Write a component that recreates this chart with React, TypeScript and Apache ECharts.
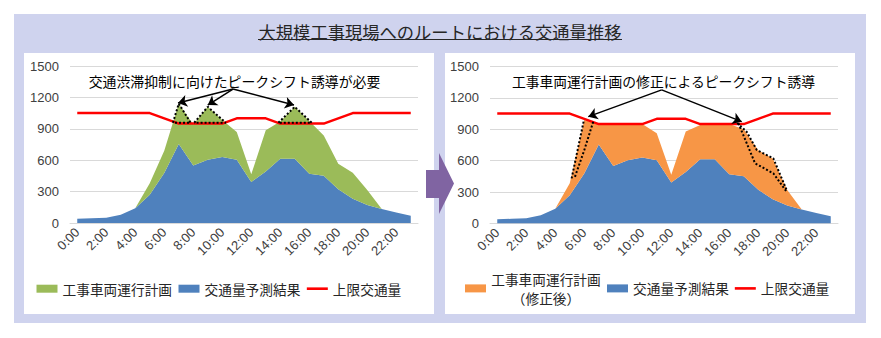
import React, { useEffect, useRef } from 'react';
import * as echarts from 'echarts';

// ---------- data ----------
const hours = ['0:00','1:00','2:00','3:00','4:00','5:00','6:00','7:00','8:00','9:00','10:00','11:00',
  '12:00','13:00','14:00','15:00','16:00','17:00','18:00','19:00','20:00','21:00','22:00','23:00'];
// 交通量予測結果
const forecastTraffic = [41,45,50,80,140,270,477,755,550,604,630,604,391,493,613,613,470,452,322,232,172,134,100,70];
// 工事車両運行計画 (stacked on top of the forecast)
const constructionPlan = [0,0,0,0,0,110,213,385,390,506,355,266,74,392,357,497,505,383,243,248,143,0,0,0];
// 工事車両運行計画（修正後）
const constructionPlanRevised = [0,0,0,0,0,115,513,195,400,346,320,258,74,387,327,337,480,448,378,388,148,0,0,0];
// 上限交通量
const trafficLimit = [1050,1050,1050,1050,1050,1050,1000,950,950,950,950,1000,1000,1000,950,950,950,950,1000,1050,1050,1050,1050,1050];
const yMin = 0;
const yMax = 1500;
const yStep = 300;

// annotation outlines, as [hour index, traffic]
const peakOutlinesLeft = [
  [[6.6,958],[7,1140],[7.82,958],[6.6,958]],
  [[8.07,958],[9,1110],[10.24,958],[8.07,958]],
  [[13.87,958],[15,1110],[16.17,958],[13.87,958]],
];
const shiftOutlinesRight = [
  [[5.13,431],[5.98,990]],
  [[5.36,446],[6,700],[6.62,973]],
  [[16.55,960],[17.2,877],[17.9,702],[19.04,622],[19.96,319]],
  [[16.63,958],[17.78,575],[19.04,479],[19.96,303]],
];
const arrowOriginLeft = [10.74,1280];
const arrowTipsLeft = [[6.95,1146],[9.0,1127],[14.95,1127]];
const arrowOriginRight = [11.34,1277];
const arrowTipsRight = [[6.28,1021],[16.86,973]];

const titleText = '大規模工事現場へのルートにおける交通量推移';
const noteLeft = '交通渋滞抑制に向けたピークシフト誘導が必要';
const noteRight = '工事車両運行計画の修正によるピークシフト誘導';

const nameForecast = '交通量予測結果';
const namePlan = '工事車両運行計画';
const namePlanRevised = '工事車両運行計画（修正後）';
const nameLimit = '上限交通量';

// ---------- styles ----------
const FONT = "'Liberation Sans', 'Noto Sans CJK JP', sans-serif";
const JP = "'Noto Sans CJK JP', sans-serif";
const BLUE = '#4F81BD';
const GREEN = '#9BBB59';
const ORANGE = '#F79646';
const RED = '#FF0000';
const GRID = '#D9D9D9';
const TXT = '#262626';
const AXT = '#404040';
const LINE_ICON = 'path://M0 0H20V2.5H0Z';

function buildOption(): any {
  const catAxis = (gridIndex: number) => ({
    type: 'category', gridIndex, data: hours, boundaryGap: true,
    axisLine: { show: true, lineStyle: { color: GRID, width: 1 } },
    axisTick: { show: false },
    axisLabel: { interval: 1, rotate: 45, margin: 7, fontSize: 13, color: AXT, fontFamily: FONT },
    splitLine: { show: false },
  });
  const hiddenX = (gridIndex: number) => ({
    type: 'value', gridIndex, min: -0.5, max: hours.length - 0.5, show: false,
    splitLine: { show: false },
  });
  const valAxis = (gridIndex: number) => ({
    type: 'value', gridIndex, min: yMin, max: yMax, interval: yStep,
    axisLine: { show: false }, axisTick: { show: false },
    axisLabel: { margin: 11, fontSize: 13, color: AXT, fontFamily: FONT, formatter: (v: number) => String(v) },
    splitLine: { lineStyle: { color: GRID, width: 1 } },
  });
  const area = (name: string, data: number[], color: string, g: number) => ({
    type: 'line', name, data, xAxisIndex: g, yAxisIndex: g, stack: 'traffic' + g,
    symbol: 'none', showSymbol: false, color,
    lineStyle: { width: 0, color }, areaStyle: { color, opacity: 1 }, itemStyle: { color },
    silent: true, emphasis: { disabled: true }, z: 2,
  });
  const limit = (g: number) => ({
    type: 'line', name: nameLimit, data: trafficLimit, xAxisIndex: g, yAxisIndex: g,
    symbol: 'none', showSymbol: false, color: RED,
    lineStyle: { width: 2.5, color: RED }, itemStyle: { color: RED },
    silent: true, emphasis: { disabled: true }, z: 3,
  });
  const dotted = (points: number[][], g: number, arrows?: { origin: number[]; tips: number[][] }) => {
    const s: any = {
      type: 'line', data: points, xAxisIndex: g + 2, yAxisIndex: g,
      symbol: 'none', showSymbol: false,
      lineStyle: { color: '#000', width: 2, type: 'dotted' },
      silent: true, emphasis: { disabled: true }, z: 5,
    };
    if (arrows) {
      s.markLine = {
        silent: true, symbol: ['none', 'arrow'], symbolSize: 9, animation: false,
        label: { show: false },
        lineStyle: { color: '#000', width: 1.5, type: 'solid' },
        emphasis: { disabled: true },
        data: arrows.tips.map((t) => [{ coord: arrows.origin }, { coord: t }]),
      };
    }
    return s;
  };

  const legendBase = {
    orient: 'horizontal', itemWidth: 21, itemHeight: 8, padding: 0,
    selectedMode: false,
    textStyle: { fontSize: 13.7, color: TXT, fontFamily: JP, lineHeight: 18.4 },
  };

  return {
    animation: false,
    grid: [
      { left: 70, top: 66, width: 348, height: 157 },
      { left: 490, top: 66.5, width: 348, height: 157 },
    ],
    xAxis: [catAxis(0), catAxis(1), hiddenX(0), hiddenX(1)],
    yAxis: [valAxis(0), valAxis(1)],
    legend: [
      {
        ...legendBase, left: 36.5, top: 279.5, itemGap: 6.5,
        data: [
          { name: namePlan, icon: 'rect' },
          { name: nameForecast, icon: 'rect' },
          { name: nameLimit, icon: LINE_ICON, itemStyle: { color: RED } },
        ],
      },
      {
        ...legendBase, left: 465, top: 270, itemGap: 6,
        formatter: (name: string) =>
          name === namePlanRevised ? '{a|工事車両運行計画}\n{a|（修正後）}' : name,
        textStyle: {
          ...legendBase.textStyle,
          rich: { a: { fontSize: 13.7, lineHeight: 18.4, align: 'center', width: 110, color: TXT, fontFamily: JP } },
        },
        data: [
          { name: namePlanRevised, icon: 'rect' },
          { name: nameForecast, icon: 'rect' },
          { name: nameLimit, icon: LINE_ICON, itemStyle: { color: RED } },
        ],
      },
    ],
    graphic: [
      { type: 'rect', z: -100, silent: true, shape: { x: 14, y: 14, width: 852, height: 309 }, style: { fill: '#CFD3EE' } },
      { type: 'rect', z: -99, silent: true, shape: { x: 24, y: 53, width: 410, height: 261 }, style: { fill: '#FFFFFF' } },
      { type: 'rect', z: -99, silent: true, shape: { x: 445, y: 53, width: 410, height: 261 }, style: { fill: '#FFFFFF' } },
      {
        type: 'text', z: 10, silent: true, x: 440, y: 31.5,
        style: { text: titleText, fontSize: 17.3, fontFamily: JP, fill: TXT, align: 'center', verticalAlign: 'middle' },
      },
      { type: 'line', z: 10, silent: true, shape: { x1: 258, y1: 39.5, x2: 622, y2: 39.5 }, style: { stroke: TXT, lineWidth: 1 } },
      {
        type: 'polygon', z: 20, silent: true,
        shape: { points: [[426, 170], [439, 170], [439, 153], [454, 183.5], [439, 214], [439, 198], [426, 198]] },
        style: { fill: '#8064A2' },
      },
      {
        type: 'text', z: 10, silent: true, x: 234.5, y: 80.5,
        style: { text: noteLeft, fontSize: 13.9, fontFamily: JP, fill: '#000', align: 'center', verticalAlign: 'middle' },
      },
      {
        type: 'text', z: 10, silent: true, x: 663.5, y: 80.5,
        style: { text: noteRight, fontSize: 13.8, fontFamily: JP, fill: '#000', align: 'center', verticalAlign: 'middle' },
      },
    ],
    series: [
      area(nameForecast, forecastTraffic, BLUE, 0),
      area(namePlan, constructionPlan, GREEN, 0),
      limit(0),
      area(nameForecast, forecastTraffic, BLUE, 1),
      area(namePlanRevised, constructionPlanRevised, ORANGE, 1),
      limit(1),
      ...peakOutlinesLeft.map((p, i) => dotted(p, 0, i === 0 ? { origin: arrowOriginLeft, tips: arrowTipsLeft } : undefined)),
      ...shiftOutlinesRight.map((p, i) => dotted(p, 1, i === 0 ? { origin: arrowOriginRight, tips: arrowTipsRight } : undefined)),
    ],
  };
}

export default function App() {
  const ref = useRef<HTMLDivElement>(null);
  useEffect(() => {
    document.body.style.margin = '0';
    const chart = echarts.init(ref.current!, null, { renderer: 'svg' });
    chart.setOption(buildOption());
    return () => chart.dispose();
  }, []);
  return (
    <div
      ref={ref}
      style={{ position: 'absolute', left: 0, top: 0, width: 881, height: 338, background: '#FFFFFF' }}
    />
  );
}
